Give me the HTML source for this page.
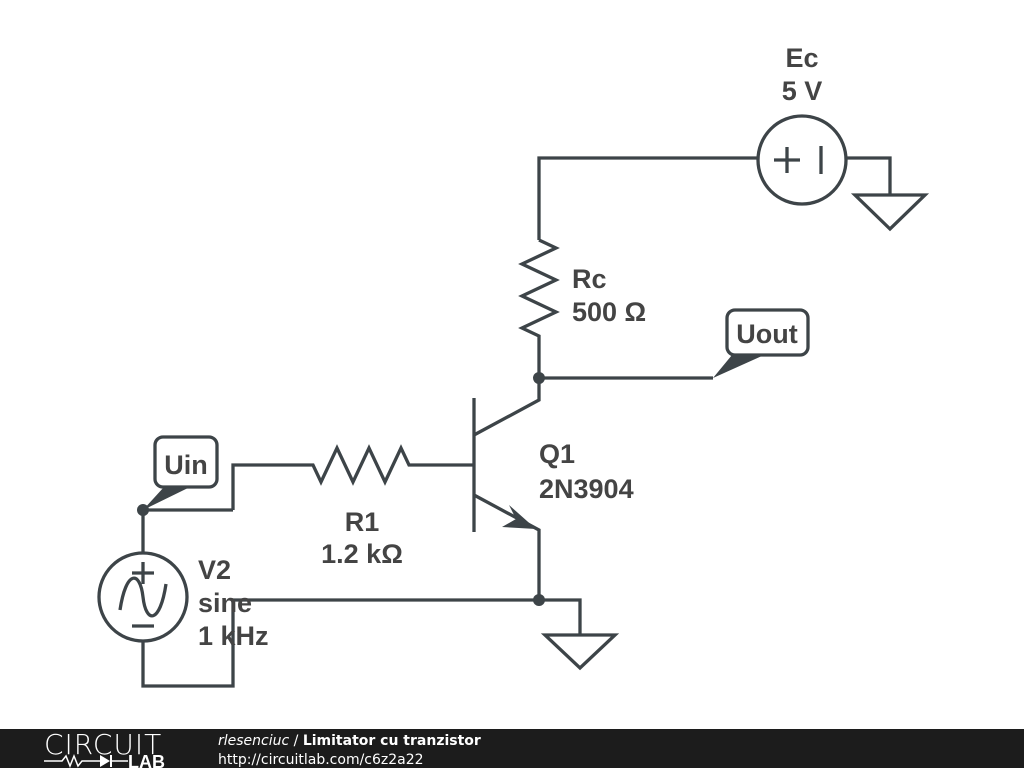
<!DOCTYPE html>
<html><head><meta charset="utf-8"><style>
html,body{margin:0;padding:0;background:#fff;}
body{width:1024px;height:768px;position:relative;overflow:hidden;font-family:"Liberation Sans",sans-serif;}
</style></head><body>
<svg width="1024" height="768" viewBox="0 0 1024 768" xmlns="http://www.w3.org/2000/svg" style="position:absolute;left:0;top:0">
<g fill="none" stroke="#3d4448" stroke-width="3.3" stroke-linejoin="miter">
<polyline points="539,240 539,158 758,158"/>
<circle cx="802" cy="160" r="44"/>
<line x1="774" y1="160" x2="800" y2="160"/><line x1="787" y1="147" x2="787" y2="173"/>
<line x1="821" y1="146" x2="821" y2="174"/>
<polyline points="846,158 890,158 890,195"/>
<polygon points="855,195 925,195 890,229"/>
<polyline points="539,240 556,248 522,264 556,280 522,296 556,312 522,328 539,336 539,400 474,435"/>
<line x1="539" y1="378" x2="713" y2="378"/>
<line x1="474" y1="398" x2="474" y2="532"/>
<polyline points="474,495 539,530 539,600"/>
<polyline points="233,510 233,465 313,465 321,482 337,448 353,482 369,448 385,482 401,448 409,465 474,465"/>
<line x1="143" y1="510" x2="233" y2="510"/>
<line x1="143" y1="510" x2="143" y2="553"/>
<circle cx="143" cy="597" r="44"/>
<line x1="143" y1="562" x2="143" y2="584"/><line x1="132" y1="573" x2="154" y2="573"/>
<line x1="132" y1="626" x2="154" y2="626"/>
<path d="M120,610 C126,570 140,570 143,597 C146,624 160,624 166,584"/>
<polyline points="143,641 143,686 233,686 233,600 580,600 580,635"/>
<polygon points="545,635 615,635 580,668"/>
<rect x="155" y="437" width="62" height="50" rx="8"/>
<rect x="727" y="310" width="81" height="45" rx="8"/>
</g>
<g fill="#3d4448">
<polygon points="509,505 536,529 502,527 516,519"/>
<circle cx="539" cy="378" r="6"/><circle cx="539" cy="600" r="6"/><circle cx="143" cy="510" r="6"/>
<polygon points="143,510 164,487 190,487"/>
<polygon points="713,378 732,355 764,355"/>
</g>
<g fill="#444" font-family="Liberation Sans, sans-serif" font-weight="bold" font-size="27">
<text x="802" y="67" text-anchor="middle">Ec</text>
<text x="802" y="100" text-anchor="middle">5 V</text>
<text x="572" y="288">Rc</text>
<text x="572" y="321">500 Ω</text>
<text x="767" y="343" text-anchor="middle">Uout</text>
<text x="186" y="474" text-anchor="middle">Uin</text>
<text x="539" y="463">Q1</text>
<text x="539" y="498">2N3904</text>
<text x="362" y="531" text-anchor="middle">R1</text>
<text x="362" y="563" text-anchor="middle">1.2 kΩ</text>
<text x="198" y="579">V2</text>
<text x="198" y="612">sine</text>
<text x="198" y="645">1 kHz</text>
</g>
<rect x="0" y="729" width="1024" height="39" fill="#1c1c1c"/>
<text x="44" y="754" fill="#fff" font-size="28" font-family="DejaVu Sans, sans-serif" font-weight="200" letter-spacing="1">CIRCUIT</text>
<polyline points="44,761 62,761 66,756 70,766 74,756 78,766 82,761 100,761" fill="none" stroke="#fff" stroke-width="1.5"/>
<polygon points="100,755 100,767 110,761" fill="#fff"/>
<line x1="111" y1="755" x2="111" y2="767" stroke="#fff" stroke-width="2"/>
<line x1="111" y1="761" x2="128" y2="761" stroke="#fff" stroke-width="1.5"/>
<text x="128" y="768" fill="#fff" font-size="18" font-weight="bold" font-family="Liberation Sans, sans-serif">LAB</text>
<text x="218" y="745" fill="#fff" font-size="14" font-family="DejaVu Sans, sans-serif"><tspan font-style="italic">rlesenciuc</tspan> / <tspan font-weight="bold">Limitator cu tranzistor</tspan></text>
<text x="218" y="764" fill="#fff" font-size="14" font-family="DejaVu Sans, sans-serif">http://circuitlab.com/c6z2a22</text>
</svg>
</body></html>
